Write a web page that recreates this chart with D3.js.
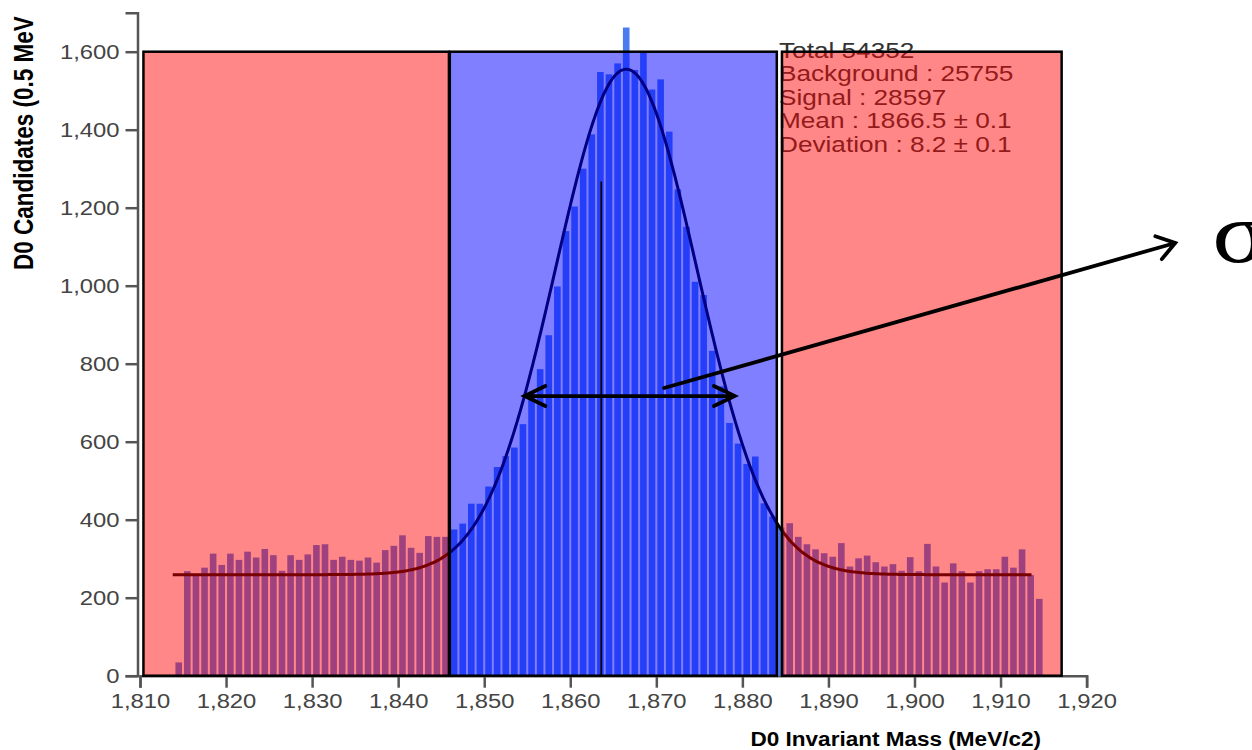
<!DOCTYPE html>
<html><head><meta charset="utf-8">
<script src="https://cdn.jsdelivr.net/npm/d3@7"></script>
<style>body{margin:0;background:#fff} svg{display:block}</style>
</head><body><svg id="c" width="1252" height="750"></svg>
<script>
// ---- data ----
const binLow = [1814,1815,1816,1817,1818,1819,1820,1821,1822,1823,1824,1825,1826,1827,1828,1829,1830,1831,1832,1833,1834,1835,1836,1837,1838,1839,1840,1841,1842,1843,1844,1845,
  1846,1847,1848,1849,1850,1851,1852,1853,1854,1855,1856,1857,1858,1859,1860,1861,1862,1863,1864,1865,1866,1867,1868,1869,1870,1871,1872,1873,1874,1875,1876,1877,1878,1879,1880,1881,1882,1883,1884,
  1885,1886,1887,1888,1889,1890,1891,1892,1893,1894,1895,1896,1897,1898,1899,1900,1901,1902,1903,1904,1905,1906,1907,1908,1909,1910,1911,1912,1913,1914];
const counts = [34,268,256,277,313,284,313,297,318,303,325,309,269,309,297,311,335,337,297,305,297,295,303,290,322,333,360,328,315,358,356,356,
  375,390,441,441,485,535,563,585,645,725,786,873,998,1140,1203,1300,1388,1548,1542,1570,1662,1553,1600,1503,1529,1395,1247,1151,1010,976,833,742,648,595,543,562,442,408,380,
  391,356,337,324,314,305,340,280,301,308,291,280,286,269,304,268,338,280,239,288,268,239,268,273,273,305,277,324,258,197];
const regionNames = ["low sideband","signal","high sideband"];
const regionLo = [1810.4, 1846.0, 1884.6];
const regionHi = [1845.9, 1884.0, 1917.1];
const regionTop = 1600;
const regionKind = ["bg","sig","bg"];
const statLines = ["Total 54352","Background : 25755","Signal : 28597","Mean : 1866.5 \u00b1 0.1","Deviation : 8.2 \u00b1 0.1"];
const fitMean = 1866.5, fitSigma = 8.2, fitPeak = 1296, fitBackground = 259;
const fitRange = [1813.8, 1913.7];
const xTicks = [1810,1820,1830,1840,1850,1860,1870,1880,1890,1900,1910,1920];
const yTicks = [0,200,400,600,800,1000,1200,1400,1600];
// annotations (data units)
const meanMarker = {x:1863.6, y0:0, y1:1267};
const sigmaArrow = {x0:1854.7, x1:1879.1, y:717};
const pointer = {x0:1870.9, y0:737.7, x1:1930.3, y1:1109.5};
const sigmaLabel = {x:1934.6, y:1061, text:"\u03c3"};

// ---- layout ----
const SX = 1.19; // horizontal text stretch of the reference
const svg = d3.select("#c");
const x = d3.scaleLinear().domain([1810,1920]).range([140,1086.6]);
const y = d3.scaleLinear().domain([0,1700]).range([675.7,12.7]);
const FONT = "'Liberation Sans', Arial, Helvetica, sans-serif";

// axes
const gy = svg.append("g").attr("transform","translate(137.5,0)")
  .call(d3.axisLeft(y).tickValues(yTicks).tickFormat(d3.format(",")).tickSize(12).tickPadding(6));
const gx = svg.append("g").attr("transform",`translate(0,${y(0)})`)
  .call(d3.axisBottom(x).tickValues(xTicks).tickFormat(d3.format(",")).tickSize(12).tickPadding(6));
[gx,gy].forEach(g=>{
  g.select(".domain").attr("stroke","#555").attr("stroke-width",2.5);
  g.selectAll(".tick line").attr("stroke","#555").attr("stroke-width",2.5);
  g.selectAll(".tick text").attr("fill","#444").style("font-family",FONT).style("font-size","20px");
});
gy.selectAll(".tick text").attr("x",null).attr("transform",`translate(-18,0) scale(${SX},1)`);
gx.selectAll(".tick text").attr("y",null).attr("transform",`translate(0,18) scale(${SX},1)`);

// bars
svg.append("g").selectAll("rect").data(counts).join("rect")
  .attr("x",(d,i)=>x(binLow[i])+1)
  .attr("width",(d,i)=>x(binLow[i]+1)-x(binLow[i])-2)
  .attr("y",d=>y(d)).attr("height",d=>y(0)-y(d))
  .attr("fill","#4a7cf0");

// fit curve (constant background + gaussian from the fit parameters)
const fitX = d3.range(fitRange[0], fitRange[1]+0.001, 0.2);
const fitY = fitX.map(m=>fitBackground + fitPeak*Math.exp(-((m-fitMean)**2)/(2*fitSigma*fitSigma)));
svg.append("path").datum(fitX.map((m,i)=>[m,fitY[i]]))
  .attr("fill","none").attr("stroke","#000").attr("stroke-width",3)
  .attr("d",d3.line().x(d=>x(d[0])).y(d=>y(d[1])).curve(d3.curveMonotoneX));

// stats text (under the boxes)
const st = svg.append("g");
statLines.forEach((s,i)=>{
  st.append("g").attr("transform",`translate(779,${58+i*23.4}) scale(${SX},1)`)
    .append("text").text(s).attr("fill","#333").style("font-family",FONT).style("font-size","22px");
});

// region boxes
svg.append("g").selectAll("rect").data(regionNames).join("rect")
  .attr("x",(d,i)=>x(regionLo[i])).attr("width",(d,i)=>x(regionHi[i])-x(regionLo[i]))
  .attr("y",y(regionTop)).attr("height",y(0)-y(regionTop))
  .attr("fill",(d,i)=>regionKind[i]==="sig"?"#0000ff":"#ff0000")
  .attr("fill-opacity",(d,i)=>regionKind[i]==="sig"?0.5:0.47)
  .attr("stroke","#000").attr("stroke-width",2.5);

// annotations
const ann = svg.append("g").attr("stroke","#000").attr("fill","none").attr("stroke-linecap","round");
ann.append("line").attr("x1",x(meanMarker.x)).attr("x2",x(meanMarker.x))
  .attr("y1",y(meanMarker.y0)).attr("y2",y(meanMarker.y1)).attr("stroke-width",1.6).attr("stroke-linecap","butt");
function head(tx,ty,ang,len,half){ // ang: direction the arrow points
  const a1=ang+Math.PI-half, a2=ang+Math.PI+half;
  return `M${tx+len*Math.cos(a1)},${ty+len*Math.sin(a1)}L${tx},${ty}L${tx+len*Math.cos(a2)},${ty+len*Math.sin(a2)}`;
}
const ax0=x(sigmaArrow.x0), ax1=x(sigmaArrow.x1), ay=y(sigmaArrow.y);
ann.append("path").attr("stroke-width",3.8)
  .attr("d",`M${ax0},${ay}L${ax1},${ay}`+head(ax0,ay,Math.PI,23,0.45)+head(ax1,ay,0,23,0.45));
const px0=x(pointer.x0), py0=y(pointer.y0), px1=x(pointer.x1), py1=y(pointer.y1);
ann.append("path").attr("stroke-width",3.8)
  .attr("d",`M${px0},${py0}L${px1},${py1}`+head(px1,py1,Math.atan2(py1-py0,px1-px0),21,0.6));
svg.append("g").attr("transform",`translate(${x(sigmaLabel.x)},${y(sigmaLabel.y)}) scale(${SX},1)`)
  .append("text").text(sigmaLabel.text).attr("fill","#000")
  .style("font-family","'Liberation Serif','Times New Roman',serif").style("font-size","86px");

// axis titles
svg.append("g").attr("transform",`translate(33,270) scale(${SX},1) rotate(-90)`)
  .append("text").text("D0 Candidates (0.5 MeV").attr("fill","#000")
  .style("font-family",FONT).style("font-weight","bold").style("font-size","22.5px");
svg.append("g").attr("transform",`translate(1041,746) scale(1.1,1)`)
  .append("text").text("D0 Invariant Mass (MeV/c2)").attr("text-anchor","end").attr("fill","#000")
  .style("font-family",FONT).style("font-weight","bold").style("font-size","20.5px");
</script></body></html>
